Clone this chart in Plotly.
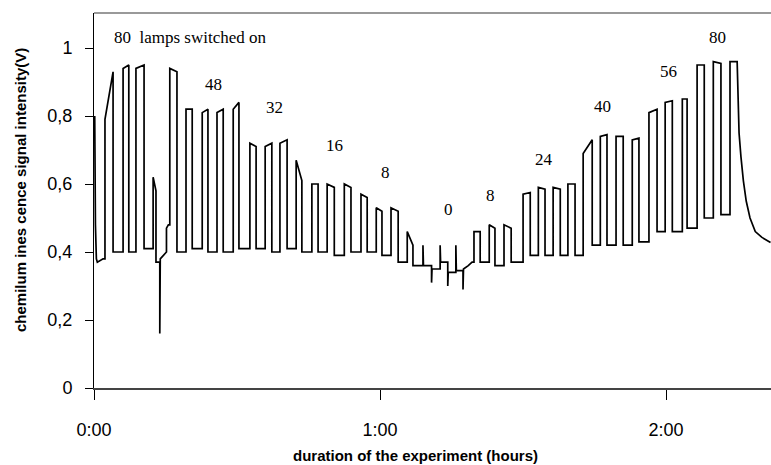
import plotly.graph_objects as go

# ---------------- data (time in minutes, signal in V) ----------------
start_t = [0.15, 0.15, 0.3, 0.5, 0.7, 1.9]
start_v = [0.80, 0.50, 0.48, 0.38, 0.37, 0.38]

on_min = [2.3, 6.1, 8.8, 15.9, 19.3, 22.7, 25.8, 29.2, 32.7, 35.9, 39.0, 42.4,
          45.7, 48.9, 52.5, 56.0, 59.2, 62.3, 65.7, 79.7, 82.9, 86.0, 90.0, 93.2,
          96.3, 99.4, 102.6, 106.2, 109.5, 112.9, 116.4, 119.8, 123.4, 126.5,
          129.9, 133.4]
off_min = [4.0, 7.3, 10.5, 17.4, 20.6, 23.9, 27.1, 30.4, 34.0, 37.3, 40.5, 43.6,
           47.0, 50.4, 53.9, 57.3, 60.4, 63.8, 66.9, 81.0, 84.1, 87.5, 91.5, 94.6,
           97.8, 100.9, 104.5, 107.6, 111.0, 114.3, 118.1, 121.3, 124.4, 128.0,
           131.5, 134.9]
top_start = [0.79, 0.94, 0.94, 0.94, 0.82, 0.81, 0.81, 0.82, 0.72, 0.71, 0.72, 0.67,
             0.60, 0.60, 0.60, 0.57, 0.53, 0.53, 0.46, 0.46, 0.48, 0.48, 0.57, 0.59,
             0.59, 0.60, 0.69, 0.74, 0.74, 0.73, 0.81, 0.84, 0.85, 0.95, 0.96, 0.96]
top_end = [0.93, 0.95, 0.95, 0.93, 0.82, 0.82, 0.82, 0.84, 0.71, 0.72, 0.73, 0.61,
           0.60, 0.59, 0.59, 0.56, 0.52, 0.52, 0.42, 0.46, 0.47, 0.47, 0.575, 0.585,
           0.585, 0.60, 0.73, 0.745, 0.74, 0.735, 0.82, 0.845, 0.85, 0.95, 0.955, 0.96]
base_after = [0.40, 0.40, 0.41, 0.40, 0.41, 0.40, 0.40, 0.41, 0.41, 0.40, 0.41, 0.40,
              0.40, 0.39, 0.40, 0.40, 0.39, 0.37, 0.36, 0.37, 0.36, 0.37, 0.39, 0.39,
              0.39, 0.39, 0.42, 0.42, 0.42, 0.43, 0.46, 0.46, 0.47, 0.50, 0.51, None]

# disturbance between 3rd and 4th pulse
dist_t = [12.4, 12.4, 13.0, 13.0, 13.8, 13.8, 13.9, 15.2, 15.2, 15.6]
dist_v = [0.41, 0.62, 0.58, 0.37, 0.37, 0.16, 0.38, 0.40, 0.47, 0.48]

# lamps off region ("0")
zero_t = [69.0, 69.0, 69.1, 70.8, 70.8, 70.9, 72.6, 72.6, 72.7, 74.2, 74.2, 74.3,
          75.9, 75.9, 76.0, 77.4, 77.4, 77.5, 78.5, 79.3]
zero_v = [0.36, 0.42, 0.36, 0.36, 0.31, 0.35, 0.35, 0.42, 0.37, 0.37, 0.30, 0.34,
          0.34, 0.42, 0.345, 0.345, 0.29, 0.35, 0.36, 0.37]

# decay after last switch-off
tail_t = [135.1, 135.3, 135.7, 136.2, 136.8, 137.6, 138.7, 140.1, 141.9]
tail_v = [0.87, 0.75, 0.68, 0.61, 0.55, 0.50, 0.46, 0.443, 0.428]

labels_text = ["48", "32", "16", "8", "0", "8", "24", "40", "56", "80"]
labels_t = [25.1, 37.9, 50.5, 61.2, 74.4, 83.1, 94.3, 106.7, 120.6, 130.8]
labels_v = [0.894, 0.825, 0.712, 0.634, 0.526, 0.565, 0.672, 0.827, 0.930, 1.031]

y_ticks = [0, 0.2, 0.4, 0.6, 0.8, 1.0]
y_ticktext = ["0", "0,2", "0,4", "0,6", "0,8", "1"]
x_ticks = [0, 60, 120]
x_ticktext = ["0:00", "1:00", "2:00"]

x_title = "duration of the experiment (hours)"
y_title = "chemilum ines cence signal intensity(V)"

# ---------------- build series ----------------
extras = {3: (dist_t, dist_v), 19: (zero_t, zero_v)}
t = list(start_t)
v = list(start_v)
for i in range(len(on_min)):
    if i in extras:
        t += extras[i][0]
        v += extras[i][1]
    t += [on_min[i], on_min[i], off_min[i]]
    v += [v[-1], top_start[i], top_end[i]]
    if base_after[i] is not None:
        t.append(off_min[i])
        v.append(base_after[i])
t += tail_t
v += tail_v

fig = go.Figure()
fig.add_trace(go.Scatter(x=t, y=v, mode="lines",
                         line=dict(color="black", width=1.7),
                         hoverinfo="skip", showlegend=False))

serif = "Liberation Serif, Times New Roman, serif"
sans = "Liberation Sans, Arial, sans-serif"

fig.add_annotation(x=3.8, y=1.032, text="80\u00a0 lamps switched on", showarrow=False,
                   xanchor="left", yanchor="middle",
                   font=dict(family=serif, size=17, color="black"))
for txt, xx, yy in zip(labels_text, labels_t, labels_v):
    fig.add_annotation(x=xx, y=yy, text=txt, showarrow=False,
                       xanchor="center", yanchor="middle",
                       font=dict(family=serif, size=17, color="black"))

# axis titles
fig.add_annotation(xref="paper", yref="paper", x=0.4756, y=-0.181, text=x_title,
                   showarrow=False, xanchor="center", yanchor="middle",
                   font=dict(family=sans, size=15, color="black", weight="bold"))
fig.add_annotation(xref="paper", yref="paper", x=-0.1093, y=0.528, text=y_title,
                   showarrow=False, xanchor="center", yanchor="middle", textangle=-90,
                   font=dict(family=sans, size=15, color="black", weight="bold"))

fig.add_shape(type="line", xref="paper", yref="paper", x0=0, x1=1, y0=1, y1=1,
              line=dict(color="#777777", width=1.5))

fig.update_layout(
    width=771, height=465,
    margin=dict(l=94, r=0, t=13, b=77),
    plot_bgcolor="white", paper_bgcolor="white",
    xaxis=dict(range=[0, 142], tickvals=x_ticks, ticktext=x_ticktext,
               ticks="outside", ticklen=10, tickcolor="black", tickwidth=1,
               showline=True, linecolor="#444444", linewidth=1.5,
               showgrid=False, zeroline=False, ticklabelstandoff=15,
               automargin=False,
               tickfont=dict(family=sans, size=18, color="black")),
    yaxis=dict(range=[0, 1.103], tickvals=y_ticks, ticktext=y_ticktext,
               ticks="outside", ticklen=8, tickcolor="black", tickwidth=1,
               showline=True, linecolor="black", linewidth=1,
               showgrid=False, zeroline=False, ticklabelstandoff=9,
               automargin=False,
               tickfont=dict(family=sans, size=18, color="black")),
)

fig.write_html("out.html")
